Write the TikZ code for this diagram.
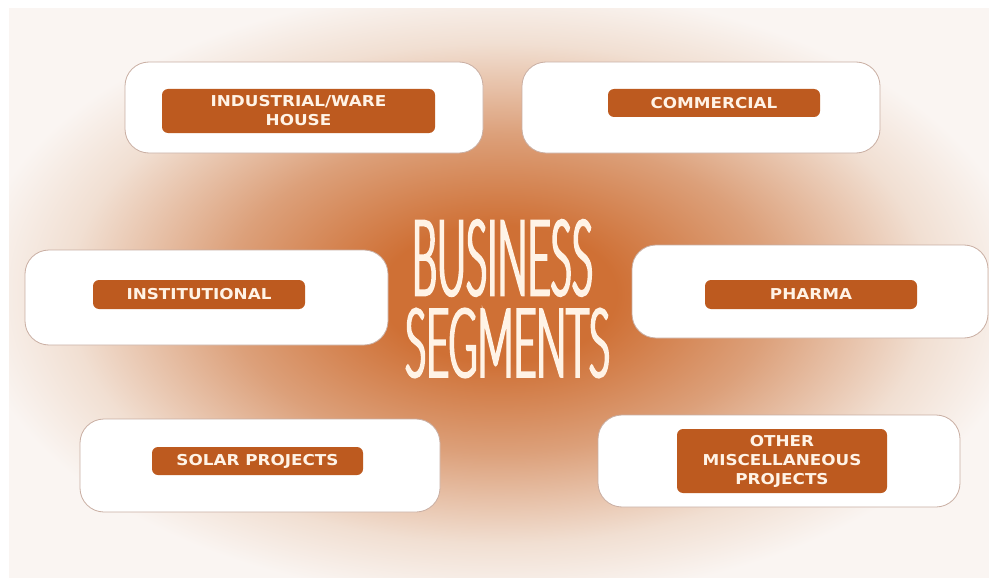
\documentclass[tikz,border=0pt]{standalone}
\usepackage{fontspec}
\setmainfont{Liberation Sans}
\newfontfamily\labelfont{DejaVu Sans}[UprightFont={* Bold},FakeStretch=1.12]
\newfontfamily\titlefont{Lato Light}[FakeStretch=0.4,FakeBold=2.5]
\usetikzlibrary{positioning}

\definecolor{glowA}{HTML}{CF7035}
\definecolor{glowB}{HTML}{DCA07A}
\definecolor{glowC}{HTML}{F1DFD2}
\definecolor{glowD}{HTML}{FAF5F2}
\definecolor{boxline}{HTML}{C9AEA2}
\definecolor{labelfill}{HTML}{BD5A1F}
\definecolor{labeltext}{HTML}{FFF3E6}

\pgfdeclareradialshading{segglow}{\pgfpoint{0bp}{0bp}}{color(0bp)=(glowA); color(6bp)=(glowA); color(14bp)=(glowB); color(22bp)=(glowC); color(27bp)=(glowD); color(50bp)=(glowD)}

\tikzset{
  segbox/.style={draw=boxline, fill=white, line width=0.8pt, rounded corners=24pt, inner sep=0pt},
  seglabel/.style={fill=labelfill, text=labeltext, rounded corners=6pt, inner sep=0pt, align=center,
    font=\labelfont\fontsize{15}{19}\selectfont},
  segtitle/.style={text=labeltext, inner sep=0pt, font=\titlefont\fontsize{100}{100}\selectfont},
}

\begin{document}
\begin{tikzpicture}[x=1pt,y=-1pt]
\useasboundingbox (0,0) rectangle (989,578);
\fill[white] (0,0) rectangle (989,578);
\shade[shading=segglow] (9,9) rectangle (989,578);

% outer boxes
\node[segbox, minimum width=358pt, minimum height=91pt] (industrial) at (304,107.5) {};
\node[segbox, minimum width=358pt, minimum height=91pt] (commercial) at (701,107.5) {};
\node[segbox, minimum width=363pt, minimum height=95pt] (institutional) at (206.5,297.5) {};
\node[segbox, minimum width=356pt, minimum height=93pt] (pharma) at (810,291.5) {};
\node[segbox, minimum width=360pt, minimum height=93pt] (solar) at (260,465.5) {};
\node[segbox, minimum width=362pt, minimum height=92pt] (other) at (779,461) {};

% labels
\node[seglabel, minimum width=273pt, minimum height=44pt] (industriallab) at (298.5,111) {INDUSTRIAL/WARE\\HOUSE};
\node[seglabel, minimum width=212pt, minimum height=28pt] (commerciallab) at (714,103) {COMMERCIAL};
\node[seglabel, minimum width=212pt, minimum height=29pt] (institutionallab) at (199,294.5) {INSTITUTIONAL};
\node[seglabel, minimum width=212pt, minimum height=29pt] (pharmalab) at (811,294.5) {PHARMA};
\node[seglabel, minimum width=211pt, minimum height=28pt] (solarlab) at (257.5,461) {SOLAR PROJECTS};
\node[seglabel, minimum width=210pt, minimum height=64pt] (otherlab) at (782,461) {OTHER\\MISCELLANEOUS\\PROJECTS};

% title
\node[segtitle] (titletop) at (502.5,258) {\resizebox{181pt}{75pt}{BUSINESS}};
\node[segtitle] (titlebottom) at (507.5,343) {\resizebox{205pt}{68pt}{SEGMENTS}};
\end{tikzpicture}
\end{document}
